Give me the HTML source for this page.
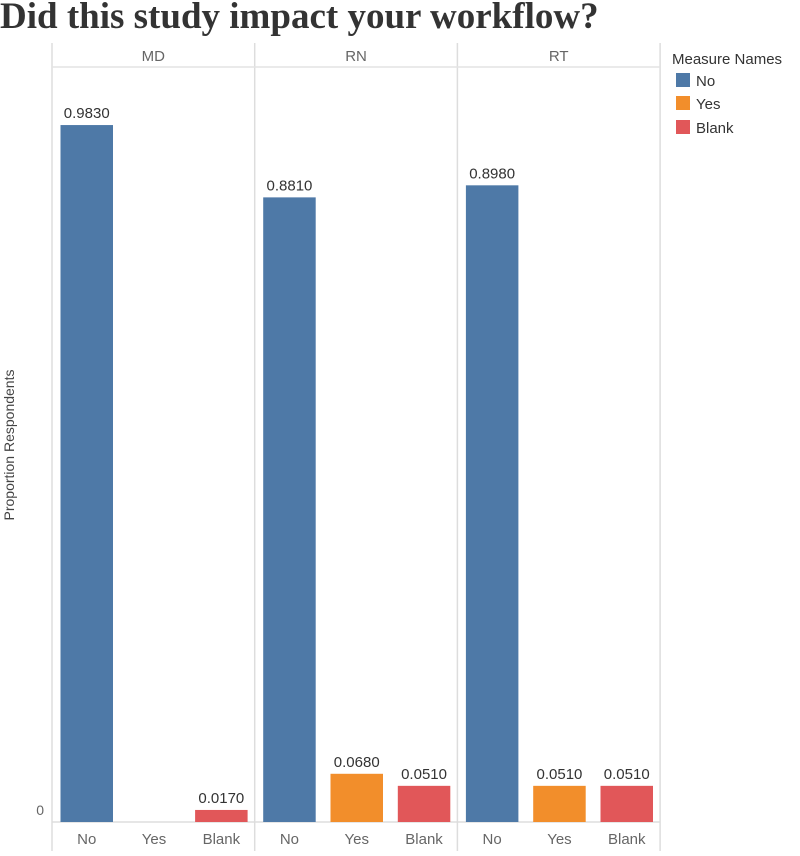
<!DOCTYPE html>
<html><head><meta charset="utf-8"><style>
body{margin:0;background:#fff;}
svg text{font-family:"Liberation Sans",sans-serif;}
</style></head><body>
<svg width="800" height="851" viewBox="0 0 800 851" xmlns="http://www.w3.org/2000/svg">
<text x="0" y="28" font-weight="bold" font-size="37" fill="#333" style="font-family:'Liberation Serif',serif">Did this study impact your workflow?</text>
<text transform="translate(14,445) rotate(-90)" text-anchor="middle" font-size="14" fill="#444">Proportion Respondents</text>
<text x="44" y="815" text-anchor="end" font-size="14" fill="#666">0</text>
<g id="grid"></g>
<g id="bars"></g>
<g>
<text x="672" y="64" font-size="15" fill="#333">Measure Names</text>
<rect x="676" y="73" width="14" height="14" fill="#4e79a7"/>
<text x="696" y="86" font-size="15" fill="#333">No</text>
<rect x="676" y="96" width="14" height="14" fill="#f28e2b"/>
<text x="696" y="109" font-size="15" fill="#333">Yes</text>
<rect x="676" y="120" width="14" height="14" fill="#e15759"/>
<text x="696" y="133" font-size="15" fill="#333">Blank</text>
</g>
</svg>
<script>
const panels = ["MD","RN","RT"];
const categories = ["No","Yes","Blank"];
const valuesNo = [0.983, 0.881, 0.898];
const valuesYes = [0, 0.068, 0.051];
const valuesBlank = [0.017, 0.051, 0.051];
const colors = ["#4e79a7","#f28e2b","#e15759"];
const series = [valuesNo, valuesYes, valuesBlank];

const NS = "http://www.w3.org/2000/svg";
const leftX = 52, panelW = 202.7, topY = 43, headerBottom = 67, base = 822, bottomY = 851;
const yScale = v => base - v * 709;
const xBar = (p, c) => leftX + p * panelW + 8.5 + c * 67.3;
const barW = 52.5;
function mk(tag, attrs, parent){const e=document.createElementNS(NS,tag);for(const k in attrs)e.setAttribute(k,attrs[k]);parent.appendChild(e);return e;}
const grid = document.getElementById("grid"), bars = document.getElementById("bars");
for (let i = 0; i <= panels.length; i++) {
  const l = mk("line",{x1:leftX+i*panelW,x2:leftX+i*panelW,y1:topY,y2:bottomY,stroke:"#ddd","stroke-width":1.5},grid);
  
  
}
const hl = mk("line",{x1:leftX,x2:leftX+3*panelW,y1:headerBottom,y2:headerBottom,stroke:"#e3e3e3","stroke-width":1.5},grid);


const bl = mk("line",{x1:leftX,x2:leftX+3*panelW,y1:base,y2:base,stroke:"#ddd","stroke-width":1.5},grid);


panels.forEach((p, pi) => {
  const h = mk("text",{x:leftX+pi*panelW+panelW/2,y:61,"text-anchor":"middle","font-size":15,fill:"#666"},grid);
  h.textContent = p;
  
  
  categories.forEach((c, ci) => {
    const v = series[ci][pi];
    const x = xBar(pi, ci);
    const t = mk("text",{x:x+barW/2,y:844,"text-anchor":"middle","font-size":15,fill:"#666"},grid);
    t.textContent = c;
    
    
    if (v > 0) {
      const r = mk("rect",{x:x,y:yScale(v),width:barW,height:base-yScale(v),fill:colors[ci]},bars);
      
      
      const lb = mk("text",{x:x+barW/2,y:yScale(v)-7,"text-anchor":"middle","font-size":15,fill:"#333"},bars);
      lb.textContent = v.toFixed(4);
      
      
    }
  });
});
</script>
</body></html>
